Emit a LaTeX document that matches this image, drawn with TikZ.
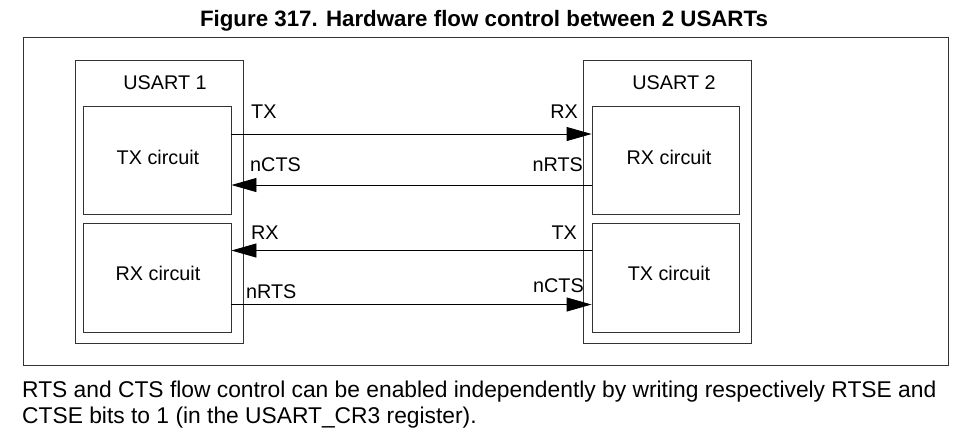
\documentclass[tikz,border=0pt]{standalone}
\usepackage{fontspec}
\setmainfont{Liberation Sans}
\usetikzlibrary{arrows.meta}
\begin{document}
\begin{tikzpicture}[x=1pt,y=-1pt,
  frame/.style={draw=black!80,line width=0.9pt},
  usartbox/.style={draw=black!80,line width=0.9pt,minimum width=168pt,minimum height=283pt,inner sep=0pt},
  circbox/.style={draw=black!80,line width=0.9pt,minimum width=148pt,minimum height=108pt,inner sep=0pt},
  lbl/.style={font=\fontsize{19.8}{23}\selectfont,inner sep=0pt},
  sig/.style={line width=0.9pt},
  arr/.style={sig,-{Triangle[length=25pt,width=14pt]}}]
\useasboundingbox (0,0) rectangle (966,440);
\fill[white] (0,0) rectangle (966,440);
% title
\node[font=\bfseries\fontsize{22.3}{26}\selectfont,inner sep=0pt,anchor=base] (title) at (484,26.5) {Figure 317. Hardware flow control between 2 USARTs};
% outer frame
\node[frame,inner sep=0pt,minimum width=925pt,minimum height=328pt] (outer) at (485.5,201) {};
% USART boxes
\node[usartbox] (u1) at (159,201.5) {};
\node[usartbox] (u2) at (667,201.5) {};
\node[lbl] (u1l) at (165,83) {USART 1};
\node[lbl] (u2l) at (674,83) {USART 2};
% circuits
\node[circbox] (tx1) at (157,160) {};
\node[circbox,minimum height=109pt] (rx1) at (157,277.5) {};
\node[circbox,minimum width=147pt] (rx2) at (665.5,160) {};
\node[circbox,minimum width=147pt,minimum height=109pt] (tx2) at (665.5,277.5) {};
\node[lbl] (tx1l) at (158,157) {TX circuit};
\node[lbl] (rx1l) at (158,273) {RX circuit};
\node[lbl] (rx2l) at (669,157) {RX circuit};
\node[lbl] (tx2l) at (669,273) {TX circuit};
% signals
\draw[arr] ([yshift=26pt]tx1.east) -- ([yshift=26pt]rx2.west);
\draw[arr] ([yshift=-25pt]rx2.west) -- ([yshift=-25pt]tx1.east);
\draw[arr] ([yshift=27pt]tx2.west) -- ([yshift=27pt]rx1.east);
\draw[arr] ([yshift=-27pt]rx1.east) -- ([yshift=-27pt]tx2.west);
% signal labels
\node[lbl,anchor=west] (l1) at (251,112) {TX};
\node[lbl,anchor=west] (l2) at (250,165) {nCTS};
\node[lbl,anchor=west] (l3) at (251,233) {RX};
\node[lbl,anchor=west] (l4) at (246,292) {nRTS};
\node[lbl,anchor=east] (r1) at (578,112) {RX};
\node[lbl,anchor=east] (r2) at (583,165) {nRTS};
\node[lbl,anchor=east] (r3) at (577,233) {TX};
\node[lbl,anchor=east] (r4) at (584,286) {nCTS};
% caption text
\node[font=\fontsize{22.8}{26}\selectfont,inner sep=0pt,anchor=base west] (t1) at (22,397.3) {RTS and CTS flow control can be enabled independently by writing respectively RTSE and};
\node[font=\fontsize{22.8}{26}\selectfont,inner sep=0pt,anchor=base west] (t2) at (22,423.8) {CTSE bits to 1 (in the USART\_CR3 register).};
\end{tikzpicture}
\end{document}
